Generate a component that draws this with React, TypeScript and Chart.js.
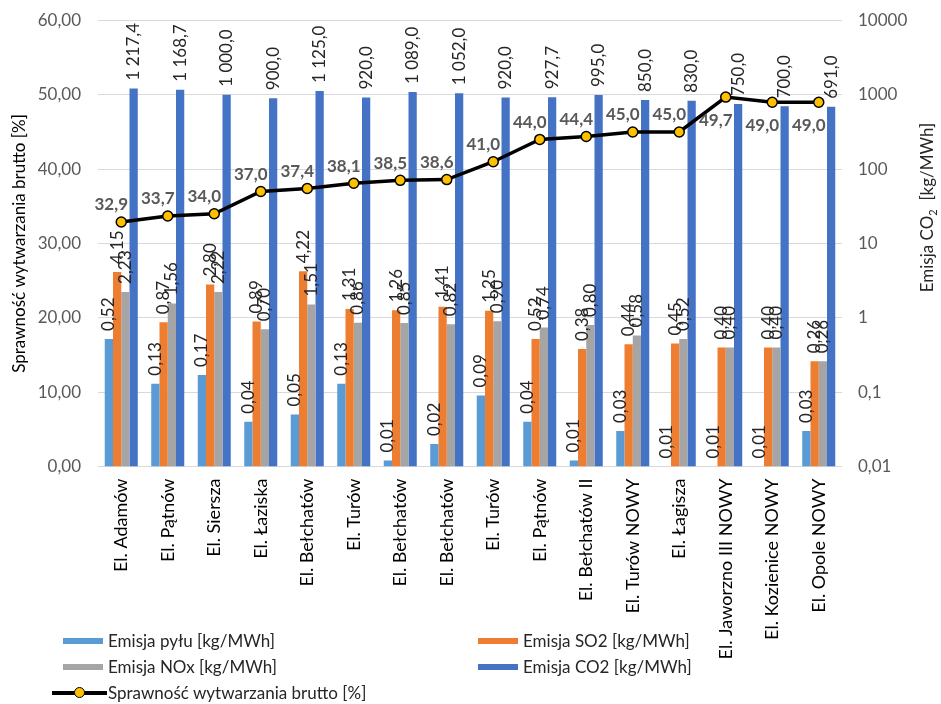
import React, { useEffect, useRef } from 'react';
import { Chart, registerables } from 'chart.js';

Chart.register(...registerables);

const CATEGORIES = [
  'El. Adamów', 'El. Pątnów', 'El. Siersza', 'El. Łaziska', 'El. Bełchatów', 'El. Turów',
  'El. Bełchatów', 'El. Bełchatów', 'El. Turów', 'El. Pątnów', 'El. Bełchatów II',
  'El. Turów NOWY', 'El. Łagisza', 'El. Jaworzno III NOWY', 'El. Kozienice NOWY', 'El. Opole NOWY',
];
const DUST = [0.52, 0.13, 0.17, 0.04, 0.05, 0.13, 0.012, 0.02, 0.09, 0.04, 0.012, 0.03, 0.01, 0.01, 0.01, 0.03];
const SO2 = [4.15, 0.87, 2.8, 0.89, 4.22, 1.31, 1.26, 1.41, 1.25, 0.52, 0.38, 0.44, 0.45, 0.4, 0.4, 0.26];
const NOX = [2.23, 1.56, 2.22, 0.7, 1.51, 0.86, 0.85, 0.82, 0.9, 0.74, 0.8, 0.58, 0.52, 0.4, 0.4, 0.26];
const CO2 = [1217.4, 1168.7, 1000.0, 900.0, 1125.0, 920.0, 1089.0, 1052.0, 920.0, 927.7, 995.0, 850.0, 830.0, 750.0, 700.0, 691.0];
const EFFICIENCY = [32.9, 33.7, 34.0, 37.0, 37.4, 38.1, 38.5, 38.6, 41.0, 44.0, 44.4, 45.0, 45.0, 49.7, 49.0, 49.0];

const SERIES_LABELS = [
  'Emisja pyłu [kg/MWh]',
  'Emisja SO2 [kg/MWh]',
  'Emisja NOx [kg/MWh]',
  'Emisja CO2 [kg/MWh]',
  'Sprawność wytwarzania brutto [%]',
];
const LEFT_TITLE = 'Sprawność wytwarzania brutto [%]';
const RIGHT_TITLE = ['Emisja CO', '2', '  [kg/MWh]'];
const RIGHT_TICKS = [0.01, 0.1, 1, 10, 100, 1000, 10000];
const LEFT_MIN = 0;
const LEFT_MAX = 60;
const LEFT_STEP = 10;

const COLORS = ['#5B9BD5', '#ED7D31', '#A5A5A5', '#4472C4'];
const FONT = 'Lato, "Open Sans", sans-serif';

const fmt2 = (v: number) => v.toFixed(2).replace('.', ',');
const fmt1 = (v: number) => {
  const [i, d] = v.toFixed(1).split('.');
  return i.replace(/\B(?=(\d{3})+(?!\d))/g, ' ') + ',' + d;
};
const fmtLog = (v: number) => (v >= 1 ? String(Math.round(v)) : String(v).replace('.', ','));

const labelPlugin = {
  id: 'valueLabels',
  afterDatasetsDraw(chart: any) {
    const ctx = chart.ctx as CanvasRenderingContext2D;
    ctx.save();
    chart.data.datasets.forEach((ds: any, i: number) => {
      const meta = chart.getDatasetMeta(i);
      meta.data.forEach((el: any, j: number) => {
        const v = ds.data[j] as number;
        if (meta.type === 'bar') {
          const text = ds.isCO2 ? fmt1(v) : fmt2(v);
          ctx.save();
          ctx.font = `17px ${FONT}`;
          ctx.fillStyle = '#262626';
          ctx.translate(el.x, el.y - 8);
          ctx.rotate(-Math.PI / 2);
          ctx.textAlign = 'left';
          ctx.textBaseline = 'middle';
          ctx.fillText(text, 0, 0);
          ctx.restore();
        }
      });
    });
    chart.data.datasets.forEach((ds: any, i: number) => {
      const meta = chart.getDatasetMeta(i);
      if (meta.type !== 'line') return;
      meta.data.forEach((el: any, j: number) => {
        const v = ds.data[j] as number;
        const below = j >= 13;
        ctx.font = `bold 17px ${FONT}`;
        ctx.fillStyle = '#595959';
        ctx.textAlign = 'center';
        ctx.textBaseline = 'middle';
        ctx.fillText(v.toFixed(1).replace('.', ','), el.x - 10, el.y + (below ? 23 : -17));
      });
    });
    ctx.restore();
  },
  afterDraw(chart: any) {
    const ctx = chart.ctx as CanvasRenderingContext2D;
    const area = chart.chartArea;
    ctx.save();
    ctx.translate(chart.width - 13, (area.top + area.bottom) / 2 - 36);
    ctx.rotate(-Math.PI / 2);
    ctx.textBaseline = 'middle';
    ctx.textAlign = 'left';
    ctx.fillStyle = '#262626';
    const big = `17px ${FONT}`;
    const small = `11px ${FONT}`;
    ctx.font = big;
    const w1 = ctx.measureText(RIGHT_TITLE[0]).width;
    const w3 = ctx.measureText(RIGHT_TITLE[2]).width;
    ctx.font = small;
    const w2 = ctx.measureText(RIGHT_TITLE[1]).width;
    let x = -(w1 + w2 + w3) / 2;
    ctx.font = big;
    ctx.fillText(RIGHT_TITLE[0], x, 0);
    x += w1;
    ctx.font = small;
    ctx.fillText(RIGHT_TITLE[1], x, 5);
    x += w2;
    ctx.font = big;
    ctx.fillText(RIGHT_TITLE[2], x, 0);
    ctx.restore();
  },
};

export default function App() {
  const ref = useRef<HTMLCanvasElement>(null);

  useEffect(() => {
    if (!ref.current) return;
    Chart.defaults.font.family = FONT;
    const barBase = { type: 'bar', yAxisID: 'y2', order: 1, categoryPercentage: 0.71, barPercentage: 1 };
    const chart = new Chart(ref.current, {
      type: 'bar',
      data: {
        labels: CATEGORIES,
        datasets: [
          {
            type: 'line',
            label: SERIES_LABELS[4],
            data: EFFICIENCY,
            yAxisID: 'y',
            order: 0,
            borderColor: '#000000',
            borderWidth: 3.5,
            pointRadius: 5,
            pointBackgroundColor: '#FFC000',
            pointBorderColor: '#000000',
            pointBorderWidth: 1.5,
            tension: 0,
          } as any,
          { ...barBase, label: SERIES_LABELS[0], data: DUST, backgroundColor: COLORS[0] } as any,
          { ...barBase, label: SERIES_LABELS[1], data: SO2, backgroundColor: COLORS[1] } as any,
          { ...barBase, label: SERIES_LABELS[2], data: NOX, backgroundColor: COLORS[2] } as any,
          { ...barBase, label: SERIES_LABELS[3], data: CO2, backgroundColor: COLORS[3], isCO2: true } as any,
        ],
      },
      options: {
        animation: false,
        responsive: false,
        layout: { padding: { top: 20.5, left: 0, right: 0, bottom: 0 } },
        plugins: { legend: { display: false }, tooltip: { enabled: false } },
        scales: {
          x: {
            grid: { display: false, drawTicks: false },
            border: { display: false },
            ticks: {
              autoSkip: false,
              maxRotation: 90,
              minRotation: 90,
              padding: 12,
              color: '#000000',
              font: { size: 18, family: FONT },
            },
            afterFit: (s: any) => { s.height = 237.5; },
          },
          y: {
            position: 'left',
            min: LEFT_MIN,
            max: LEFT_MAX,
            ticks: {
              stepSize: LEFT_STEP,
              callback: (v: any) => fmt2(Number(v)),
              padding: 2,
              color: '#595959',
              font: { size: 17, family: FONT },
            },
            grid: { color: '#D9D9D9', drawTicks: true, tickLength: 15, tickColor: 'rgba(0,0,0,0)', lineWidth: 1 },
            border: { display: false },
            title: {
              display: true,
              text: LEFT_TITLE,
              color: '#000000',
              font: { size: 17, family: FONT },
              padding: { top: 9, bottom: 0 },
            },
            afterFit: (s: any) => { s.width = 98; },
          },
          y2: {
            type: 'logarithmic',
            position: 'right',
            min: RIGHT_TICKS[0],
            max: RIGHT_TICKS[RIGHT_TICKS.length - 1],
            grid: { display: true, drawOnChartArea: false, color: 'rgba(0,0,0,0)', drawTicks: true, tickLength: 14, tickColor: 'rgba(0,0,0,0)' },
            border: { display: false },
            afterBuildTicks: (s: any) => { s.ticks = RIGHT_TICKS.map((v) => ({ value: v })); },
            ticks: {
              callback: (v: any) => fmtLog(Number(v)),
              padding: 2,
              color: '#595959',
              font: { size: 17, family: FONT },
            },
            afterFit: (s: any) => { s.width = 99; },
          },
        },
      } as any,
      plugins: [labelPlugin],
    });
    return () => chart.destroy();
  }, []);

  const text: React.CSSProperties = {
    position: 'absolute',
    fontFamily: FONT,
    fontSize: 17,
    color: '#262626',
    lineHeight: '20px',
    whiteSpace: 'nowrap',
  };
  const swatch = (left: number, top: number, color: string) => (
    <div style={{ position: 'absolute', left, top: top - 3, width: 40, height: 6, background: color }} />
  );
  const rows = [641, 667, 693];

  return (
    <div style={{ position: 'absolute', left: 0, top: 0, width: 941, height: 704, background: '#ffffff', overflow: 'hidden' }}>
      <canvas ref={ref} width={941} height={704} style={{ position: 'absolute', left: 0, top: 0, width: 941, height: 704 }} />
      {swatch(63, rows[0], COLORS[0])}
      <div style={{ ...text, left: 108, top: rows[0] - 10 }}>{SERIES_LABELS[0]}</div>
      {swatch(478, rows[0], COLORS[1])}
      <div style={{ ...text, left: 523, top: rows[0] - 10 }}>{SERIES_LABELS[1]}</div>
      {swatch(63, rows[1], COLORS[2])}
      <div style={{ ...text, left: 108, top: rows[1] - 10 }}>{SERIES_LABELS[2]}</div>
      {swatch(478, rows[1], COLORS[3])}
      <div style={{ ...text, left: 523, top: rows[1] - 10 }}>{SERIES_LABELS[3]}</div>
      <div style={{ position: 'absolute', left: 52, top: rows[2] - 2, width: 55, height: 4, background: '#000000' }} />
      <div style={{ position: 'absolute', left: 74, top: rows[2] - 6, width: 9, height: 9, borderRadius: '50%', background: '#FFC000', border: '1.5px solid #000000' }} />
      <div style={{ ...text, left: 108, top: rows[2] - 10 }}>{SERIES_LABELS[4]}</div>
    </div>
  );
}
